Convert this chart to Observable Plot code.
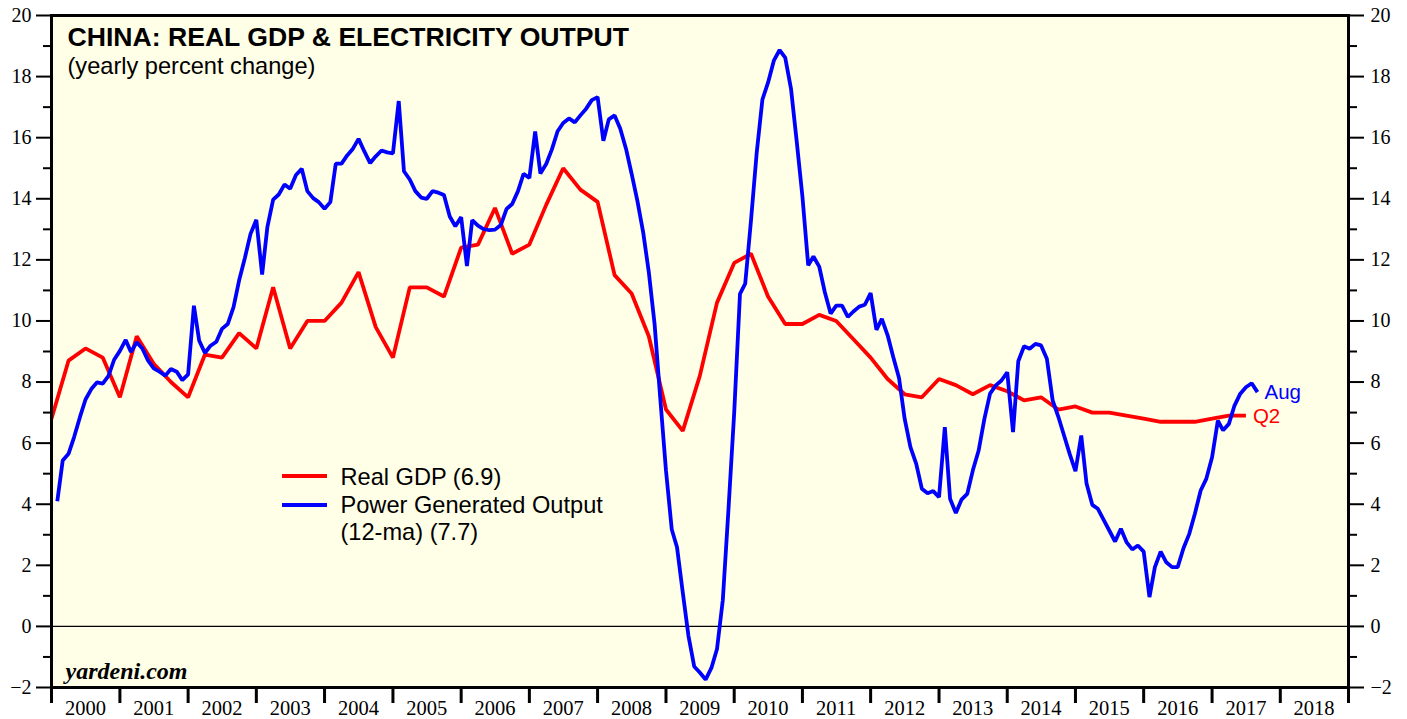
<!DOCTYPE html>
<html><head><meta charset="utf-8">
<script src="https://cdn.jsdelivr.net/npm/d3@7"></script>
<script src="https://cdn.jsdelivr.net/npm/@observablehq/plot@0.6"></script>
<style>body{margin:0;background:#fff;} #chart svg{display:block;}</style>
</head><body><div id="chart"></div>
<script>
// ---- data ----
const yearLabels = [2000,2001,2002,2003,2004,2005,2006,2007,2008,2009,2010,2011,2012,2013,2014,2015,2016,2017,2018];
const yearTicks = [2000,2001,2002,2003,2004,2005,2006,2007,2008,2009,2010,2011,2012,2013,2014,2015,2016,2017,2018,2019];
const yMajor = [-2,0,2,4,6,8,10,12,14,16,18,20];
const yMinor = [-1,1,3,5,7,9,11,13,15,17,19];

// Real GDP, yearly % change, quarterly (Q4 1999 .. Q2 2017), plotted at quarter end
const gdpValues = [6.8,
  8.7, 9.1, 8.8, 7.5,   9.5, 8.6, 8.0, 7.5,   8.9, 8.8, 9.6, 9.1,
  11.1, 9.1, 10.0, 10.0, 10.6, 11.6, 9.8, 8.8,  11.1, 11.1, 10.8, 12.4,
  12.5, 13.7, 12.2, 12.5, 13.8, 15.0, 14.3, 13.9, 11.5, 10.9, 9.5, 7.1,
  6.4, 8.2, 10.6, 11.9,  12.2, 10.8, 9.9, 9.9,  10.2, 10.0, 9.4, 8.8,
  8.1, 7.6, 7.5, 8.1,  7.9, 7.6, 7.9, 7.7,  7.4, 7.5, 7.1, 7.2,
  7.0, 7.0, 6.9, 6.8,  6.7, 6.7, 6.7, 6.8,  6.9, 6.9];

// Power generated output, 12-month average, yearly % change, monthly (Jan 2000 .. Aug 2017)
const powerValues = [
  4.10, 5.43, 5.65, 6.20, 6.85, 7.43, 7.77, 7.99, 7.95, 8.20, 8.73, 9.02,
  9.38, 8.98, 9.30, 9.10, 8.70, 8.45, 8.34, 8.21, 8.43, 8.34, 8.06, 8.25,
  10.50, 9.36, 8.95, 9.19, 9.32, 9.74, 9.90, 10.45, 11.33, 12.07, 12.85, 13.31,
  11.52, 13.07, 13.97, 14.14, 14.47, 14.33, 14.78, 14.98, 14.25, 14.02, 13.89, 13.67,
  13.89, 15.15, 15.15, 15.42, 15.64, 15.96, 15.55, 15.17, 15.39, 15.58, 15.52, 15.49,
  17.20, 14.90, 14.63, 14.25, 14.04, 14.00, 14.25, 14.20, 14.12, 13.42, 13.10, 13.40,
  11.80, 13.30, 13.12, 13.01, 12.97, 12.99, 13.14, 13.67, 13.83, 14.25, 14.82, 14.68,
  16.20, 14.83, 15.14, 15.61, 16.21, 16.48, 16.63, 16.50, 16.73, 16.95, 17.23, 17.33,
  15.90, 16.60, 16.73, 16.30, 15.64, 14.82, 13.93, 12.90, 11.60, 9.90, 7.50, 5.10,
  3.17, 2.59, 1.10, -0.30, -1.31, -1.51, -1.74, -1.36, -0.74, 0.86, 3.80, 7.00,
  10.89, 11.22, 13.30, 15.48, 17.25, 17.80, 18.52, 18.87, 18.62, 17.60, 15.91, 14.08,
  11.82, 12.11, 11.78, 10.94, 10.24, 10.50, 10.50, 10.13, 10.31, 10.47, 10.53, 10.91,
  9.71, 10.07, 9.53, 8.82, 8.13, 6.80, 5.87, 5.32, 4.51, 4.36, 4.43, 4.23,
  6.52, 4.18, 3.71, 4.15, 4.34, 5.11, 5.76, 6.80, 7.62, 7.89, 8.05, 8.32,
  6.36, 8.68, 9.17, 9.09, 9.25, 9.20, 8.76, 7.40, 6.87, 6.25, 5.65, 5.08,
  6.25, 4.69, 3.98, 3.85, 3.49, 3.14, 2.78, 3.20, 2.76, 2.52, 2.65, 2.45,
  0.96, 1.94, 2.45, 2.10, 1.94, 1.94, 2.56, 3.03, 3.69, 4.45, 4.83, 5.54,
  6.74, 6.42, 6.63, 7.23, 7.62, 7.83, 7.96, 7.67];

const titleText = "CHINA: REAL GDP & ELECTRICITY OUTPUT";
const subtitleText = "(yearly percent change)";
const legendItems = [
  {label: ["Real GDP (6.9)"], color: "#ff0000"},
  {label: ["Power Generated Output", "(12-ma) (7.7)"], color: "#0000ff"}
];
const sourceText = "yardeni.com";
const gdpEndLabel = "Q2";
const powerEndLabel = "Aug";

// ---- build tables ----
const gdp = gdpValues.map((v, i) => ({date: new Date(Date.UTC(2000, 3 * i, 1)), value: v}));
const power = powerValues.map((v, i) => ({date: new Date(Date.UTC(2000, i + 1, 1)), value: v}));
const yearDate = y => new Date(Date.UTC(y, 0, 1));
const midYear = y => new Date(Date.UTC(y, 6, 1));

const RED = "#ff0000", BLUE = "#0000ff", BG = "#fffee6";
const SANS = "Liberation Sans, Arial, Helvetica, sans-serif";
const SERIF = "Liberation Serif, Times New Roman, serif";

const chart = Plot.plot({
  width: 1407,
  height: 719,
  marginLeft: 51,
  marginRight: 59,
  marginTop: 15,
  marginBottom: 32,
  style: {fontFamily: SERIF, fontSize: "20px", background: "#fff", color: "#000", overflow: "visible"},
  x: {type: "utc", domain: [yearDate(2000), yearDate(2019)]},
  y: {domain: [-2, 20]},
  marks: [
    Plot.frame({fill: BG, stroke: null}),
    Plot.ruleY([0], {stroke: "#000", strokeWidth: 1.2}),
    // axes
    Plot.axisY(yMajor, {anchor: "left", tickSize: 15, tickPadding: 5, strokeWidth: 2, label: null, fontSize: 20, fontFamily: SERIF}),
    Plot.axisY(yMinor, {anchor: "left", tickSize: 8, strokeWidth: 2, tickFormat: () => "", label: null}),
    Plot.axisY(yMajor, {anchor: "right", tickSize: 15, tickPadding: 7, strokeWidth: 2, label: null, fontSize: 20, fontFamily: SERIF}),
    Plot.axisY(yMinor, {anchor: "right", tickSize: 8, strokeWidth: 2, tickFormat: () => "", label: null}),
    Plot.axisX(yearTicks.map(yearDate), {anchor: "bottom", tickSize: 16, strokeWidth: 3, tickFormat: () => "", label: null}),
    Plot.text(yearLabels, {x: midYear, frameAnchor: "bottom", dy: 21, text: d => String(d), fontSize: 20.5, fontFamily: SERIF, lineAnchor: "middle"}),
    // series
    Plot.line(gdp, {x: "date", y: "value", stroke: RED, strokeWidth: 3.8, strokeLinejoin: "miter", strokeLinecap: "butt"}),
    Plot.line(power, {x: "date", y: "value", stroke: BLUE, strokeWidth: 3.8, strokeLinejoin: "miter", strokeLinecap: "butt"}),
    Plot.text(power.slice(-1), {x: "date", y: "value", text: () => powerEndLabel, dx: 7, textAnchor: "start", fill: BLUE, fontSize: 20.5, fontFamily: SANS, lineAnchor: "middle"}),
    Plot.text(gdp.slice(-1), {x: "date", y: "value", text: () => gdpEndLabel, dx: 7, dy: 1, textAnchor: "start", fill: RED, fontSize: 20.5, fontFamily: SANS, lineAnchor: "middle"}),
    // titles
    Plot.text([titleText], {frameAnchor: "top-left", dx: 16, dy: 30, text: d => d, textAnchor: "start", lineAnchor: "bottom", fontSize: 26.6, fontWeight: "bold", fontFamily: SANS}),
    Plot.text([subtitleText], {frameAnchor: "top-left", dx: 16, dy: 58, text: d => d, textAnchor: "start", lineAnchor: "bottom", fontSize: 23.6, fontFamily: SANS}),
    Plot.text([sourceText], {frameAnchor: "bottom-left", dx: 14, dy: -9, text: d => d, textAnchor: "start", lineAnchor: "bottom", fontSize: 24, fontWeight: "bold", fontStyle: "italic", fontFamily: SERIF}),
    // legend labels
    Plot.text([legendItems[0].label[0]], {frameAnchor: "top-left", dx: 289, dy: 462, text: d => d, textAnchor: "start", lineAnchor: "middle", fontSize: 23.6, fontFamily: SANS}),
    Plot.text([legendItems[1].label[0]], {frameAnchor: "top-left", dx: 289, dy: 490, text: d => d, textAnchor: "start", lineAnchor: "middle", fontSize: 23.6, fontFamily: SANS}),
    Plot.text([legendItems[1].label[1]], {frameAnchor: "top-left", dx: 289, dy: 517, text: d => d, textAnchor: "start", lineAnchor: "middle", fontSize: 23.6, fontFamily: SANS}),
    Plot.frame({stroke: "#000", strokeWidth: 3})
  ]
});

// legend swatches
const svg = d3.select(chart);
legendItems.forEach((item, k) => {
  const yy = [476, 505][k];
  svg.append("line").attr("x1", 282).attr("x2", 327).attr("y1", yy).attr("y2", yy)
    .attr("stroke", item.color).attr("stroke-width", 4);
});

document.getElementById("chart").appendChild(chart);
</script>
</body></html>
